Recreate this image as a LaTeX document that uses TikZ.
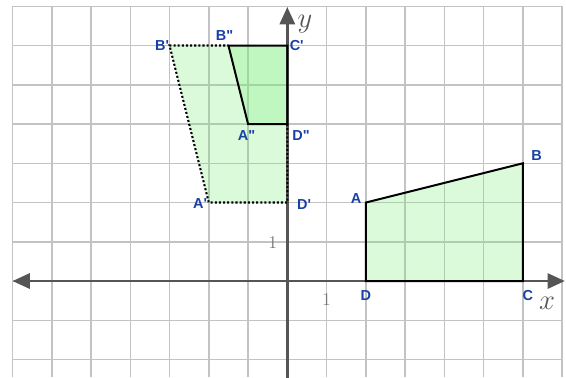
\documentclass[tikz,border=0pt]{standalone}
\usepackage{fontspec}
\newfontfamily\labfont{Liberation Sans}
\usetikzlibrary{arrows.meta}
\definecolor{labblue}{RGB}{25,65,165}
\definecolor{gridgray}{RGB}{195,195,195}
\definecolor{axisgray}{RGB}{85,85,85}
\definecolor{shapegreen}{RGB}{120,235,120}
\tikzset{
  gridline/.style={draw=gridgray, line width=1.1pt},
  axisline/.style={draw=axisgray, line width=1.8pt, -{Triangle[length=12.5pt,width=11pt]}},
  ptlabel/.style={text=labblue, font=\labfont\bfseries\fontsize{10.5}{11}\selectfont, inner sep=0pt},
  axlabel/.style={text=axisgray, font=\fontsize{22}{24}\selectfont, inner sep=0pt},
  numlabel/.style={text=axisgray!80, font=\fontsize{13}{14}\selectfont, inner sep=0pt},
  shapefill/.style={fill=shapegreen, fill opacity=0.27},
  solidedge/.style={draw=black, line width=1.45pt, line join=miter},
  dottededge/.style={draw=black, line width=1.5pt, dash pattern=on 1.5pt off 1.5pt}
}
\begin{document}
\begin{tikzpicture}
\useasboundingbox (-7.32,-2.45) rectangle (7.10,7.16);
% grid
\foreach \i in {-7,...,7} \draw[gridline] (\i,-2.45) -- (\i,7);
\foreach \j in {-2,...,7} \draw[gridline] (-7,\j) -- (7,\j);
% points
\coordinate (A) at (2,2);
\coordinate (B) at (6,3);
\coordinate (C) at (6,0);
\coordinate (D) at (2,0);
\coordinate (A1) at (-2,2);
\coordinate (B1) at (-3,6);
\coordinate (C1) at (0,6);
\coordinate (D1) at (0,2);
\coordinate (A2) at (-1,4);
\coordinate (B2) at (-1.5,6);
\coordinate (D2) at (0,4);
% fills
\fill[shapefill] (A) -- (B) -- (C) -- (D) -- cycle;
\fill[shapefill] (A1) -- (B1) -- (C1) -- (D1) -- cycle;
\fill[shapefill] (A2) -- (B2) -- (C1) -- (D2) -- cycle;
% axes
\coordinate (O) at (0,0);
\coordinate (xl) at (-7,0);
\coordinate (xr) at (7.07,0);
\coordinate (yb) at (0,-2.6);
\coordinate (yt) at (0,6.98);
\draw[axisline] (O) -- (xr);
\draw[axisline] (O) -- (xl);
\draw[axisline] (yb) -- (yt);
% edges
\draw[dottededge] (D2) -- (D1) -- (A1) -- (B1) -- (B2);
\draw[solidedge] (A) -- (B) -- (C) -- (D) -- cycle;
\draw[solidedge] (A2) -- (B2) -- (C1) -- (D2) -- cycle;
% labels
\node[ptlabel] (lA) at (1.75,2.09) {A};
\node[ptlabel] (lB) at (6.35,3.21) {B};
\node[ptlabel] (lC) at (6.13,-0.38) {C};
\node[ptlabel] (lD) at (2.00,-0.38) {D};
\node[ptlabel] (lA1) at (-2.22,1.97) {A'};
\node[ptlabel] (lB1) at (-3.19,6.0) {B'};
\node[ptlabel] (lC1) at (0.24,5.99) {C'};
\node[ptlabel] (lD1) at (0.43,1.94) {D'};
\node[ptlabel] (lA2) at (-1.04,3.72) {A"};
\node[ptlabel] (lB2) at (-1.6,6.25) {B"};
\node[ptlabel] (lD2) at (0.35,3.72) {D"};
\node[numlabel] (n1x) at (1.0,-0.48) {1};
\node[numlabel] (n1y) at (-0.37,0.97) {1};
\node[axlabel] (lx) at (6.62,-0.58) {$x$};
\node[axlabel] (ly) at (0.45,6.55) {$y$};
\end{tikzpicture}
\end{document}
